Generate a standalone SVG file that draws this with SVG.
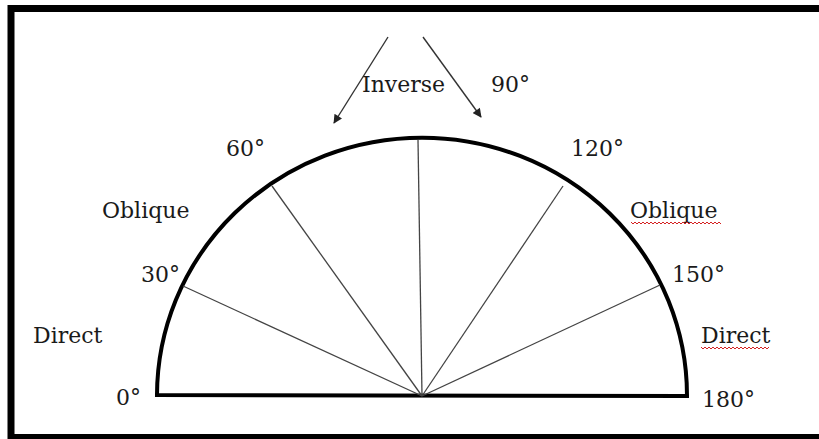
<svg xmlns="http://www.w3.org/2000/svg" width="819" height="439" viewBox="0 0 819 439">
<style>
text{font-family:"DejaVu Serif","Liberation Serif",serif;font-size:22px;fill:#1a1a1a}
.spoke{stroke:#444;stroke-width:1.3;fill:none}
.arr{stroke:#333;stroke-width:1.4;fill:none}
.squig{stroke:#d42020;stroke-width:1;fill:none}
</style>
<defs>
<marker id="ah" viewBox="0 0 10 10" refX="9" refY="5" markerWidth="10" markerHeight="9" markerUnits="userSpaceOnUse" orient="auto">
<path d="M0,0 L10,5 L0,10 z" fill="#222"/>
</marker>
</defs>
<rect width="819" height="439" fill="#fff"/>
<rect x="11" y="8.5" width="830" height="429" fill="none" stroke="#000" stroke-width="7"/>
<g id="protractor">
<path d="M157,395 A265,258 0 0 1 687,396 Z" fill="none" stroke="#000" stroke-width="4" stroke-linejoin="miter"/>
</g>
<g id="connectors">
<line class="spoke" x1="422" y1="396" x2="183" y2="286"/>
<line class="spoke" x1="422" y1="396" x2="272" y2="186"/>
<line class="spoke" x1="422" y1="396" x2="418" y2="140"/>
<line class="spoke" x1="422" y1="396" x2="563" y2="186"/>
<line class="spoke" x1="422" y1="396" x2="660" y2="285"/>
<line class="arr" x1="388" y1="37" x2="334" y2="123" marker-end="url(#ah)"/>
<line class="arr" x1="423" y1="37" x2="481" y2="117" marker-end="url(#ah)"/>
</g>
<g id="labels">
<text x="362" y="92">Inverse</text>
<text x="491" y="92">90°</text>
<text x="226" y="156">60°</text>
<text x="571" y="156">120°</text>
<text x="102" y="218">Oblique</text>
<text x="630" y="218">Oblique</text>
<text x="141" y="282">30°</text>
<text x="672" y="282">150°</text>
<text x="33" y="343">Direct</text>
<text x="701" y="343">Direct</text>
<text x="116" y="405">0°</text>
<text x="702" y="407">180°</text>
</g>
<g id="spellcheck">
<path class="squig" d="M631,222 l2,2 l2,-2 l2,2 l2,-2 l2,2 l2,-2 l2,2 l2,-2 l2,2 l2,-2 l2,2 l2,-2 l2,2 l2,-2 l2,2 l2,-2 l2,2 l2,-2 l2,2 l2,-2 l2,2 l2,-2 l2,2 l2,-2 l2,2 l2,-2 l2,2 l2,-2 l2,2 l2,-2 l2,2 l2,-2 l2,2 l2,-2 l2,2 l2,-2 l2,2 l2,-2 l2,2 l2,-2 l2,2 l2,-2 l2,2 l2,-2 l2,2"/>
<path class="squig" d="M701,347 l2,2 l2,-2 l2,2 l2,-2 l2,2 l2,-2 l2,2 l2,-2 l2,2 l2,-2 l2,2 l2,-2 l2,2 l2,-2 l2,2 l2,-2 l2,2 l2,-2 l2,2 l2,-2 l2,2 l2,-2 l2,2 l2,-2 l2,2 l2,-2 l2,2 l2,-2 l2,2 l2,-2 l2,2 l2,-2 l2,2 l2,-2"/>
</g>
</svg>
